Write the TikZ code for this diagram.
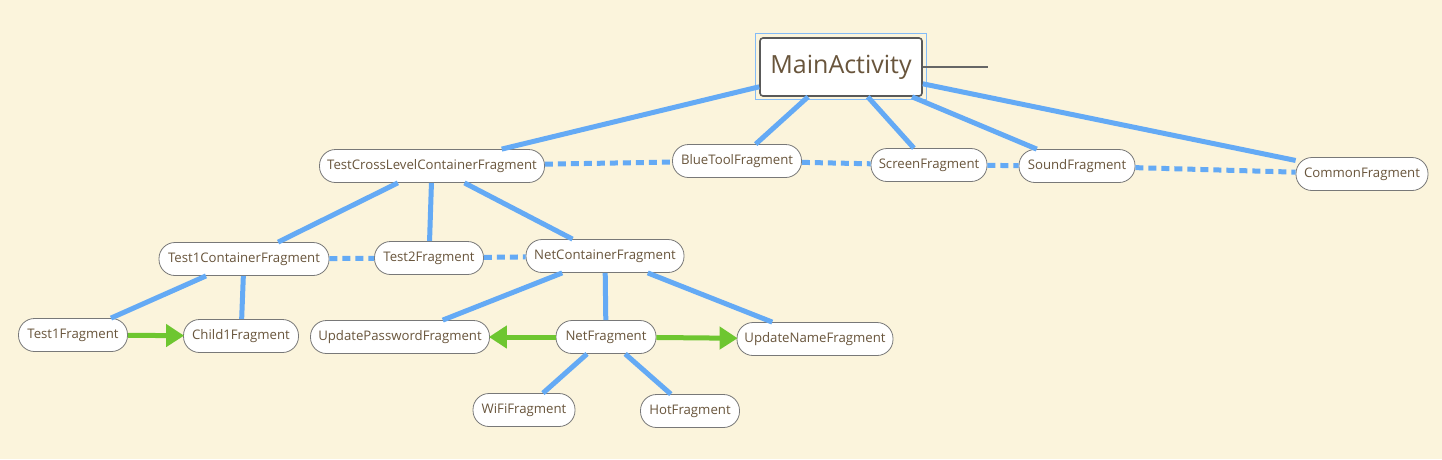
\documentclass[tikz,border=0pt]{standalone}
\usepackage{fontspec}
\setmainfont{Open Sans}
\usetikzlibrary{arrows.meta,calc}
\definecolor{bg}{RGB}{251,244,220}
\definecolor{lnblue}{RGB}{100,170,245}
\definecolor{lngreen}{RGB}{110,198,48}
\definecolor{txt}{RGB}{105,85,60}
\definecolor{bord}{RGB}{120,120,120}
\begin{document}
\begin{tikzpicture}[x=1pt,y=-1pt,
  frag/.style={draw=bord, fill=white, rounded corners=16pt, minimum height=33pt, inner xsep=0pt, line width=0.8pt, text=txt, font=\fontsize{13.2}{15}\selectfont},
  mainbox/.style={draw=black!65, fill=white, rounded corners=3pt, line width=1.6pt, minimum width=162pt, minimum height=58pt, text=txt, font=\fontsize{25}{30}\selectfont},
  tree/.style={draw=lnblue, line width=5pt},
  peer/.style={draw=lnblue, line width=5pt, dash pattern=on 8pt off 5pt},
  flow/.style={draw=lngreen, line width=5pt, -{Triangle[length=18pt,width=22pt]}, shorten >=-1pt}
]
\fill[bg] (0,0) rectangle (1442,459);
\useasboundingbox (0,0) rectangle (1442,459);

\node[mainbox] (main) at (841,67) {MainActivity};
\draw[lnblue!80, line width=0.8pt] ($(main.north west)+(-4,-4)$) rectangle ($(main.south east)+(4,3)$);
\coordinate (mainend) at (988,67);

\node[frag, minimum width=225pt] (tc) at (432,166) {TestCrossLevelContainerFragment};
\node[frag, minimum width=129pt] (blue) at (737,161) {BlueToolFragment};
\node[frag, minimum width=116pt] (screen) at (929,165) {ScreenFragment};
\node[frag, minimum width=116pt] (sound) at (1077,166) {SoundFragment};
\node[frag, minimum width=132pt] (common) at (1362,174) {CommonFragment};
\node[frag, minimum width=170pt] (t1c) at (244,259) {Test1ContainerFragment};
\node[frag, minimum width=109pt] (t2) at (429,258) {Test2Fragment};
\node[frag, minimum width=158pt] (netc) at (605,256) {NetContainerFragment};
\node[frag, minimum width=109pt] (t1) at (73,335) {Test1Fragment};
\node[frag, minimum width=115pt] (child) at (241,336) {Child1Fragment};
\node[frag, minimum width=179pt] (upw) at (400,337) {UpdatePasswordFragment};
\node[frag, minimum width=100pt] (net) at (606,337) {NetFragment};
\node[frag, minimum width=156pt] (upn) at (815,339) {UpdateNameFragment};
\node[frag, minimum width=102pt] (wifi) at (524,410) {WiFiFragment};
\node[frag, minimum width=99pt] (hot) at (690,411) {HotFragment};

\draw[black!60, line width=1.4pt] (main.east) -- (mainend);

\draw[tree] (main) -- (tc);
\draw[tree] (main) -- (blue);
\draw[tree] (main) -- (screen);
\draw[tree] (main) -- (sound);
\draw[tree] (main) -- (common);
\draw[tree] (tc) -- (t1c);
\draw[tree] (tc) -- (t2);
\draw[tree] (tc) -- (netc);
\draw[tree] (t1c) -- (t1);
\draw[tree] (t1c) -- (child);
\draw[tree] (netc) -- (upw);
\draw[tree] (netc) -- (net);
\draw[tree] (netc) -- (upn);
\draw[tree] (net) -- (wifi);
\draw[tree] (net) -- (hot);

\draw[peer] (tc) -- (blue);
\draw[peer] (blue) -- (screen);
\draw[peer] (screen) -- (sound);
\draw[peer] (sound) -- (common);
\draw[peer] (t1c) -- (t2);
\draw[peer] (t2) -- (netc);

\draw[flow] (t1) -- (child);
\draw[flow] (net) -- (upw);
\draw[flow] (net) -- (upn);
\end{tikzpicture}
\end{document}
